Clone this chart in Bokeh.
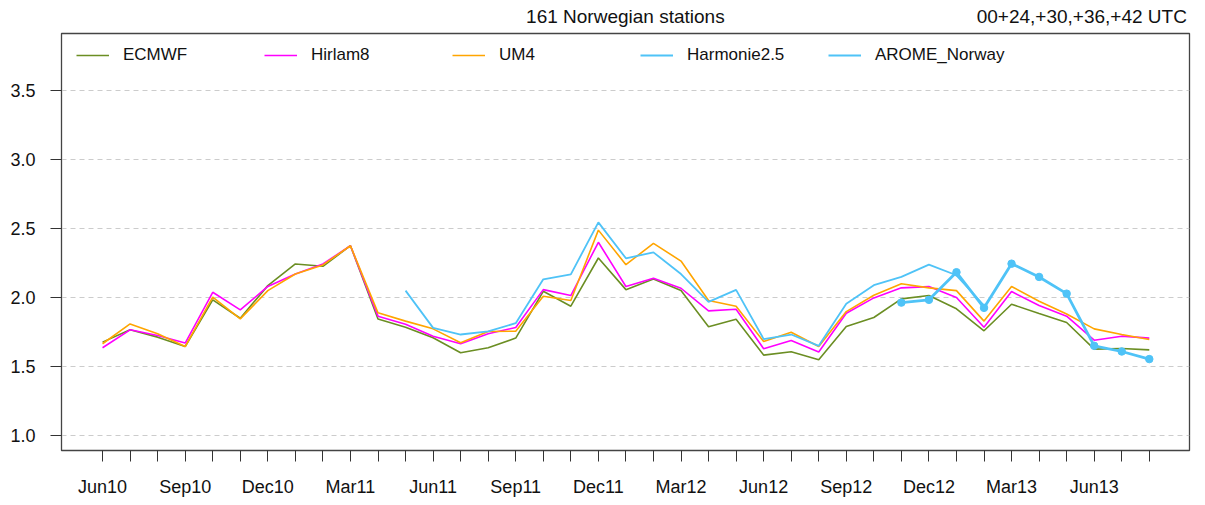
import numpy as np
from bokeh.plotting import figure
from bokeh.models import FixedTicker, Range1d, Legend, LegendItem, LinearAxis
from bokeh.embed import file_html
from bokeh.resources import INLINE

# ---- data -------------------------------------------------------------
months = ["Jun10", "Jul10", "Aug10", "Sep10", "Oct10", "Nov10", "Dec10", "Jan11",
          "Feb11", "Mar11", "Apr11", "May11", "Jun11", "Jul11", "Aug11", "Sep11",
          "Oct11", "Nov11", "Dec11", "Jan12", "Feb12", "Mar12", "Apr12", "May12",
          "Jun12", "Jul12", "Aug12", "Sep12", "Oct12", "Nov12", "Dec12", "Jan13",
          "Feb13", "Mar13", "Apr13", "May13", "Jun13", "Jul13", "Aug13"]
labelled_months = ["Jun10", "Sep10", "Dec10", "Mar11", "Jun11", "Sep11", "Dec11",
                   "Mar12", "Jun12", "Sep12", "Dec12", "Mar13", "Jun13"]

ecmwf = [1.677, 1.766, 1.713, 1.645, 1.983, 1.850, 2.086, 2.243, 2.226, 2.375,
         1.845, 1.785, 1.708, 1.600, 1.636, 1.706, 2.045, 1.937, 2.286, 2.057,
         2.134, 2.050, 1.788, 1.843, 1.583, 1.607, 1.549, 1.790, 1.855, 1.990,
         2.014, 1.918, 1.759, 1.951, 1.884, 1.819, 1.626, 1.631, 1.621]
hirlam8 = [1.636, 1.766, 1.725, 1.670, 2.038, 1.910, 2.080, 2.170, 2.243, 2.375,
           1.865, 1.807, 1.720, 1.665, 1.737, 1.783, 2.057, 2.014, 2.400, 2.080,
           2.139, 2.067, 1.903, 1.915, 1.629, 1.689, 1.605, 1.886, 1.997, 2.070,
           2.079, 2.000, 1.785, 2.043, 1.942, 1.865, 1.691, 1.720, 1.706]
um4 = [1.665, 1.809, 1.737, 1.645, 2.002, 1.845, 2.050, 2.170, 2.236, 2.375,
       1.889, 1.829, 1.773, 1.672, 1.754, 1.756, 2.009, 1.978, 2.488, 2.238,
       2.392, 2.264, 1.978, 1.937, 1.681, 1.749, 1.645, 1.898, 2.016, 2.100,
       2.070, 2.050, 1.829, 2.080, 1.973, 1.881, 1.773, 1.732, 1.696]
harmonie = [None, None, None, None, None, None, None, None, None, None, None,
            2.050, 1.780, 1.732, 1.754, 1.814, 2.132, 2.168, 2.544, 2.284,
            2.327, 2.170, 1.968, 2.055, 1.699, 1.732, 1.650, 1.954, 2.089,
            2.149, 2.238, 2.161, 1.942,
            None, None, None, None, None, None]
arome = [None, None, None, None, None, None, None, None, None, None,
         None, None, None, None, None, None, None, None, None, None,
         None, None, None, None, None, None, None, None, None,
         1.963, 1.983, 2.183, 1.925, 2.245, 2.149, 2.028, 1.650, 1.609, 1.554]

y_ticks = [1.0, 1.5, 2.0, 2.5, 3.0, 3.5]
title_text = "161 Norwegian stations"
right_text = "00+24,+30,+36,+42 UTC"

# ---- styling ----------------------------------------------------------
FONT = "Liberation Sans"
C_ECMWF = "#6B8E23"
C_HIRLAM = "#FF00FF"
C_UM4 = "#FFA500"
C_BLUE = "#4FC3F7"
AX = "#444444"


def arr(v):
    return np.array([np.nan if a is None else a for a in v], dtype=float)


x = np.arange(len(months))

p = figure(width=1196, height=499, output_backend="svg", toolbar_location=None,
           x_range=Range1d(-1.49, 39.46), y_range=Range1d(0.892, 3.912),
           min_border_left=61, min_border_right=7, min_border_top=33,
           min_border_bottom=48)

p.outline_line_color = AX
p.outline_line_width = 1.3
p.background_fill_color = "white"
p.border_fill_color = "white"

r_ec = p.line(x, arr(ecmwf), line_color=C_ECMWF, line_width=1.6)
r_hi = p.line(x, arr(hirlam8), line_color=C_HIRLAM, line_width=1.6)
r_um = p.line(x, arr(um4), line_color=C_UM4, line_width=1.6)
r_ha = p.line(x, arr(harmonie), line_color=C_BLUE, line_width=1.8)
r_ar = p.line(x, arr(arome), line_color=C_BLUE, line_width=2.8)
p.scatter(x, arr(arome), size=7.5, fill_color=C_BLUE, line_color=C_BLUE)

# axes
xa = p.xaxis[0]
xa.ticker = FixedTicker(ticks=list(x))
xa.major_label_overrides = {int(i): (m if m in labelled_months else "") for i, m in enumerate(months)}
xa.major_tick_out = 11
xa.major_tick_in = 0
xa.minor_tick_out = 0
xa.minor_tick_in = 0
xa.major_label_standoff = 15
xa.axis_line_color = AX
xa.major_tick_line_color = "#333333"
xa.major_label_text_font = FONT
xa.major_label_text_font_size = "18px"
xa.major_label_text_color = "#111111"

ya = p.yaxis[0]
ya.ticker = FixedTicker(ticks=y_ticks)
ya.major_label_overrides = {t: f"{t:.1f}" for t in y_ticks}
ya.major_tick_out = 11
ya.major_tick_in = 0
ya.minor_tick_out = 0
ya.minor_tick_in = 0
ya.major_label_standoff = 15
ya.axis_line_color = AX
ya.major_tick_line_color = "#333333"
ya.major_label_text_font = FONT
ya.major_label_text_font_size = "18px"
ya.major_label_text_color = "#111111"
ya.major_label_orientation = "horizontal"

# header texts as labels of a tick-less axis above the frame
title_pos = 18.98
right_pos = 35.55
top_axis = LinearAxis(ticker=FixedTicker(ticks=[title_pos, right_pos]),
                      major_label_overrides={title_pos: title_text, right_pos: right_text},
                      axis_line_color=None, major_tick_line_color=None,
                      minor_tick_line_color=None, major_tick_out=0, major_tick_in=0,
                      major_label_standoff=7, major_label_text_font=FONT,
                      major_label_text_font_size="19px", major_label_text_color="#111111")
p.add_layout(top_axis, "above")

p.xgrid.visible = False
p.ygrid.grid_line_color = "#cccccc"
p.ygrid.grid_line_dash = "5 4"
p.ygrid.grid_line_width = 1

legend = Legend(items=[LegendItem(label="ECMWF", renderers=[r_ec]),
                       LegendItem(label="Hirlam8", renderers=[r_hi]),
                       LegendItem(label="UM4", renderers=[r_um]),
                       LegendItem(label="Harmonie2.5", renderers=[r_ha]),
                       LegendItem(label="AROME_Norway", renderers=[r_ha])],
                orientation="horizontal", location=(15, 385),
                glyph_width=33, glyph_height=20, label_width=141,
                label_height=20, label_standoff=14, spacing=0,
                padding=10, margin=0, border_line_color=None,
                background_fill_alpha=0,
                label_text_font=FONT, label_text_font_size="17px",
                label_text_color="#111111")
p.add_layout(legend)

open("out.html", "w").write(file_html(p, INLINE))
